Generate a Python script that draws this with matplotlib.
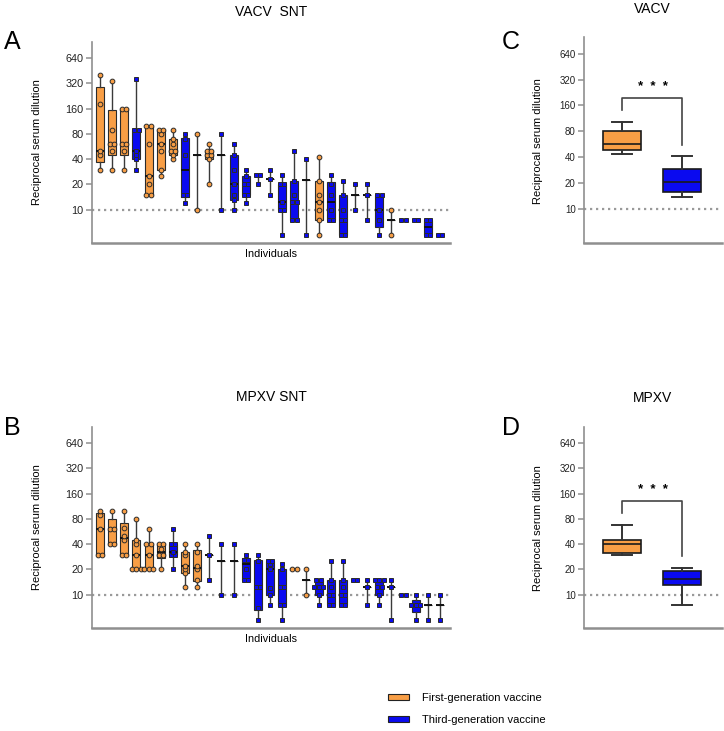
import numpy as np
import matplotlib
matplotlib.use("Agg")
import matplotlib.pyplot as plt
from matplotlib.patches import Patch
from matplotlib.ticker import NullLocator

plt.rcParams["font.family"] = ["Liberation Sans", "DejaVu Sans"]

W, H = 724, 731
ORANGE = "#F89E45"
BLUE = "#0A0AF0"
EDGE = "#2b2b2b"
GRAY = "#8f8f8f"

y_ticks = [10, 20, 40, 80, 160, 320, 640]
y_ticklabels = ["10", "20", "40", "80", "160", "320", "640"]
legend_labels = ["First-generation vaccine", "Third-generation vaccine"]

# VACV SNT - titers per individual (F = first-gen, T = third-gen)
vacv_groups = list("FFFTFFFTFFTTTTTTTTFTTTTTFTTTT")
vacv_titers = [
    [30, 45, 50, 180, 400],
    [30, 50, 60, 60, 90, 340],
    [30, 50, 60, 60, 160, 160],
    [30, 40, 45, 50, 90, 90, 360],
    [15, 15, 20, 25, 60, 100, 100],
    [25, 30, 50, 60, 80, 90, 90],
    [40, 45, 50, 50, 60, 70, 90],
    [12, 15, 15, 45, 70, 80],
    [10, 80],
    [20, 40, 45, 45, 50, 50, 60],
    [10, 80],
    [10, 13, 15, 20, 30, 45, 60],
    [12, 15, 15, 20, 20, 25, 30],
    [20, 26, 26],
    [15, 23, 30],
    [5, 10, 10, 12.5, 20, 20, 26],
    [7.5, 7.5, 12.5, 12.5, 15, 22, 50],
    [5, 40],
    [5, 7.5, 10, 12.5, 15, 22, 43],
    [7.5, 7.5, 10, 15, 20, 26],
    [5, 5, 7.5, 7.5, 10, 15, 22],
    [10, 20],
    [7.5, 15, 20],
    [5, 7.5, 10, 15, 15],
    [5, 10],
    [7.5, 7.5],
    [7.5, 7.5],
    [5, 5, 7.5, 7.5],
    [5, 5],
]

# MPXV SNT
mpxv_groups = list("FFFFFFTFFTTTTTTTFFTTTTTTTTTTT")
mpxv_titers = [
    [30, 30, 60, 90, 100],
    [40, 40, 60, 60, 100],
    [30, 30, 45, 50, 62, 100],
    [20, 20, 20, 30, 40, 45, 80],
    [20, 20, 20, 30, 40, 40, 60],
    [20, 30, 30, 35, 40, 40],
    [20, 30, 30, 32, 40, 40, 60],
    [12.5, 18, 20, 22, 30, 32, 40],
    [12.5, 15, 20, 22, 32, 40],
    [15, 30, 50],
    [10, 40],
    [10, 40],
    [15, 15, 20, 26, 26, 30],
    [5, 7, 12.5, 12.5, 25, 30],
    [7.5, 10, 12, 20, 23, 25, 25],
    [5, 7.5, 7.5, 12.5, 12.5, 20, 23],
    [20, 20],
    [10, 20],
    [7.5, 10, 12.5, 12.5, 12.5, 15, 15],
    [7.5, 7.5, 10, 10, 12.5, 15, 25],
    [7.5, 7.5, 10, 10, 12.5, 15, 25],
    [15, 15],
    [7.5, 12.5, 15],
    [7.5, 10, 12.5, 12.5, 15, 15, 15],
    [5, 12.5, 15],
    [10, 10],
    [5, 7.5, 7.5, 7.5, 10],
    [5, 10],
    [5, 10],
]

# group summaries (min, q1, median, q3, max)
vacv_first = [44, 48, 57, 80, 102]
vacv_third = [13.8, 15.9, 20.5, 29, 40.7]
mpxv_first = [29.4, 31.6, 40, 45, 68]
mpxv_third = [7.5, 13.1, 15.2, 18.9, 20.6]
# significance bracket: left foot, top, right foot, stars height
vacv_bracket = [140, 196, 56, 262]
mpxv_bracket = [95, 131, 28.6, 178]


def fx(x):
    return x / W


def fy(y):
    return 1 - y / H


def style(ax, tick_fs):
    ax.set_yscale("log", base=2)
    ax.set_ylim(4, 1000)
    ax.set_yticks(y_ticks)
    ax.set_yticklabels(y_ticklabels)
    ax.yaxis.set_minor_locator(NullLocator())
    for s in ["top", "right"]:
        ax.spines[s].set_visible(False)
    ax.spines["left"].set_color(GRAY)
    ax.spines["left"].set_linewidth(1.2)
    ax.spines["bottom"].set_color(GRAY)
    ax.spines["bottom"].set_linewidth(1.8)
    ax.tick_params(axis="y", color=GRAY, width=1.1, length=4.5, pad=1.5,
                   labelsize=tick_fs, labelcolor="#222222")
    ax.tick_params(axis="x", bottom=False, labelbottom=False)
    ax.axhline(10, color="#9a9a9a", lw=1.6, ls=(0, (1, 1.7)), zorder=0)


def draw_individuals(ax, titers, groups):
    pos = np.arange(1, len(titers) + 1)
    stats = []
    for vals in titers:
        v = np.array(vals, float)
        med = np.median(v)
        if len(v) >= 4:
            q1, q3 = np.percentile(v, [25, 75], method="weibull")
        else:
            q1 = q3 = med
        stats.append(dict(med=med, q1=q1, q3=q3, whislo=v.min(),
                          whishi=v.max(), fliers=[]))
    bp = ax.bxp(stats, positions=pos, widths=0.66, patch_artist=True,
                showcaps=False, showfliers=False,
                boxprops=dict(edgecolor=EDGE, linewidth=0.8),
                whiskerprops=dict(color="#3a3a3a", linewidth=1.0),
                medianprops=dict(color="#111111", linewidth=1.4))
    for patch, g in zip(bp["boxes"], groups):
        patch.set_facecolor(ORANGE if g == "F" else BLUE)

    for p, vals, g in zip(pos, titers, groups):
        uniq, cnt = np.unique(vals, return_counts=True)
        xs, ys = [], []
        for u, c in zip(uniq, cnt):
            for k in range(c):
                xs.append(p + (k - (c - 1) / 2) * 0.36)
                ys.append(u)
        ax.plot(xs, ys, ls="none", marker="o" if g == "F" else "s",
                ms=3.4, mfc=ORANGE if g == "F" else BLUE, mec=EDGE,
                mew=0.7, zorder=4)
    ax.set_xlim(0.34, len(titers) + 0.82)


def draw_summary(ax, first, third, bracket):
    stats = []
    for s in (first, third):
        stats.append(dict(whislo=s[0], q1=s[1], med=s[2], q3=s[3],
                          whishi=s[4], fliers=[]))
    bp = ax.bxp(stats, positions=[1, 2], widths=0.63, patch_artist=True,
                showfliers=False, capwidths=0.33,
                boxprops=dict(edgecolor="#1a1a1a", linewidth=1.2),
                whiskerprops=dict(color="#333333", linewidth=1.4),
                capprops=dict(color="#333333", linewidth=1.4),
                medianprops=dict(color="#1a1a1a", linewidth=1.2))
    bp["boxes"][0].set_facecolor(ORANGE)
    bp["boxes"][1].set_facecolor(BLUE)
    ax.plot([1, 1, 2, 2], [bracket[0], bracket[1], bracket[1], bracket[2]],
            color="#444444", lw=1.2)
    ax.text(1.52, bracket[3], "*  *  *", ha="center", va="center",
            fontsize=9.5, fontweight="bold")
    ax.set_xlim(0.37, 2.67)


fig = plt.figure(figsize=(W / 100, H / 100), dpi=100)

axA = fig.add_axes([fx(92), fy(243), fx(358), 201 / H])
axB = fig.add_axes([fx(92), fy(628), fx(358), 201 / H])
axC = fig.add_axes([fx(584), fy(243), fx(138), 206 / H])
axD = fig.add_axes([fx(584), fy(628), fx(138), 201 / H])

for ax in (axA, axB):
    style(ax, 7.8)
for ax in (axC, axD):
    style(ax, 7)

draw_individuals(axA, vacv_titers, vacv_groups)
draw_individuals(axB, mpxv_titers, mpxv_groups)
draw_summary(axC, vacv_first, vacv_third, vacv_bracket)
draw_summary(axD, mpxv_first, mpxv_third, mpxv_bracket)

# titles, panel letters, axis labels
fig.text(fx(271), fy(12), "VACV  SNT", ha="center", va="center", fontsize=10)
fig.text(fx(652), fy(9), "VACV", ha="center", va="center", fontsize=10)
fig.text(fx(271), fy(397), "MPXV SNT", ha="center", va="center", fontsize=10)
fig.text(fx(652), fy(398), "MPXV", ha="center", va="center", fontsize=10)
for letter, x, y in [("A", 12, 42), ("C", 511, 42), ("B", 12, 428), ("D", 511, 428)]:
    fig.text(fx(x), fy(y), letter, ha="center", va="center", fontsize=18)
for x, y in [(37, 142), (538, 141), (37, 527), (538, 528)]:
    fig.text(fx(x), fy(y), "Reciprocal serum dilution", rotation=90,
             ha="center", va="center", fontsize=8)
fig.text(fx(271), fy(254), "Individuals", ha="center", va="center", fontsize=7.8)
fig.text(fx(271), fy(639), "Individuals", ha="center", va="center", fontsize=7.8)

handles = [Patch(facecolor=ORANGE, edgecolor="#222222", lw=0.8, label=legend_labels[0]),
           Patch(facecolor=BLUE, edgecolor="#222222", lw=0.8, label=legend_labels[1])]
fig.legend(handles=handles, loc="upper left", bbox_to_anchor=(fx(388), fy(693)),
           frameon=False, fontsize=8, handlelength=1.9, handleheight=0.45,
           handletextpad=1.2, labelspacing=1.05, borderpad=0, borderaxespad=0)

fig.savefig("out.png", dpi=100)
